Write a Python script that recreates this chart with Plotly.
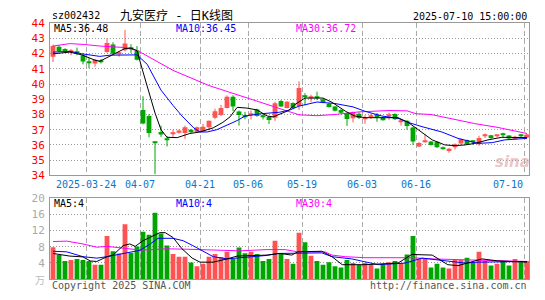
import plotly.graph_objects as go

# ---------------- data ----------------
dates = ["03-14","03-17","03-18","03-19","03-20","03-21","03-24","03-25","03-26","03-27",
         "03-28","03-31","04-01","04-02","04-03","04-07","04-08","04-09","04-10","04-11",
         "04-14","04-15","04-16","04-17","04-18","04-21","04-22","04-23","04-24","04-25",
         "04-28","04-29","04-30","05-06","05-07","05-08","05-09","05-12","05-13","05-14",
         "05-15","05-16","05-19","05-20","05-21","05-22","05-23","05-26","05-27","05-28",
         "05-29","05-30","06-03","06-04","06-05","06-06","06-09","06-10","06-11","06-12",
         "06-13","06-16","06-17","06-18","06-19","06-20","06-23","06-24","06-25","06-26",
         "06-27","06-30","07-01","07-02","07-03","07-04","07-07","07-08","07-09","07-10"]

opens = [41.80, 42.45, 42.30, 42.10, 42.16, 41.90, 41.46, 41.36, 41.50, 42.10,
         42.60, 41.98, 42.22, 42.40, 42.20, 38.30, 37.90, 36.20, 36.85, 36.40,
         36.75, 36.80, 36.78, 37.00, 36.85, 36.90, 37.16, 37.79, 37.96, 38.42,
         39.16, 38.20, 37.96, 38.00, 38.32, 37.92, 37.84, 37.79, 38.88, 38.42,
         38.76, 38.55, 39.25, 39.08, 39.12, 39.00, 38.70, 38.53, 38.30, 38.10,
         37.75, 38.05, 37.73, 37.87, 38.00, 37.79, 37.90, 38.04, 37.53, 37.58,
         37.15, 35.90, 36.20, 36.22, 36.20, 35.82, 35.60, 35.85, 36.10, 36.33,
         36.24, 36.05, 36.58, 36.64, 36.60, 36.70, 36.62, 36.42, 36.62, 36.48]
highs = [42.60, 42.55, 42.35, 42.30, 42.40, 42.00, 41.72, 41.65, 41.65, 43.00,
         42.75, 42.15, 43.56, 42.62, 42.50, 39.20, 38.03, 36.25, 37.27, 36.58,
         37.00, 37.00, 37.27, 37.05, 37.20, 37.38, 37.60, 38.38, 38.63, 39.26,
         39.26, 38.26, 38.17, 38.26, 38.38, 38.02, 37.90, 38.84, 38.95, 38.88,
         38.80, 40.18, 39.40, 39.30, 39.50, 39.05, 38.75, 38.55, 38.35, 38.12,
         38.20, 38.15, 37.97, 38.05, 38.10, 37.85, 38.12, 38.08, 37.70, 37.62,
         37.20, 36.20, 36.70, 36.25, 36.22, 35.90, 35.80, 36.10, 36.42, 36.35,
         36.30, 36.60, 36.75, 36.66, 36.68, 36.80, 36.65, 36.60, 36.70, 36.72]
lows = [41.46, 42.10, 42.10, 41.90, 41.90, 41.30, 41.04, 41.15, 41.35, 42.05,
        41.95, 41.80, 42.15, 42.05, 41.55, 37.35, 36.50, 34.07, 36.53, 35.90,
        36.50, 36.75, 36.39, 36.80, 36.80, 36.85, 36.96, 37.69, 37.90, 38.40,
        38.23, 37.27, 37.69, 37.67, 37.85, 37.67, 37.38, 37.58, 38.50, 38.40,
        38.35, 38.30, 38.60, 38.80, 38.95, 38.74, 38.45, 38.20, 38.05, 37.25,
        37.48, 37.70, 37.38, 37.70, 37.52, 37.60, 37.65, 37.65, 37.27, 37.00,
        36.00, 35.85, 36.15, 35.95, 35.80, 35.70, 35.49, 35.70, 36.00, 36.00,
        36.00, 35.95, 36.45, 36.40, 36.50, 36.50, 36.35, 36.38, 36.50, 36.45]
closes = [42.50, 42.15, 42.18, 42.17, 42.03, 41.48, 41.42, 41.60, 41.46, 42.70,
          42.00, 42.05, 42.66, 42.30, 41.60, 37.40, 36.78, 36.12, 36.68, 36.37,
          36.80, 36.95, 37.16, 36.88, 37.16, 37.20, 37.58, 38.21, 38.42, 39.16,
          38.53, 37.97, 37.86, 38.08, 37.90, 37.88, 37.63, 38.74, 38.53, 38.84,
          38.43, 39.74, 39.20, 39.15, 39.08, 38.78, 38.50, 38.24, 38.12, 37.70,
          38.16, 37.77, 37.78, 37.92, 37.80, 37.66, 37.96, 37.69, 37.60, 37.25,
          36.22, 36.13, 36.25, 36.00, 35.85, 35.78, 35.75, 36.05, 36.38, 36.03,
          36.20, 36.45, 36.62, 36.45, 36.65, 36.66, 36.42, 36.54, 36.58, 36.68]
volumes = [7.9, 5.95, 4.5, 4.75, 5.0, 4.75, 4.5, 3.57, 3.57, 10.7,
           6.9, 6.35, 13.6, 6.5, 8.1, 11.7, 10.95, 16.4, 11.3, 8.3,
           6.2, 5.55, 5.55, 4.1, 3.17, 3.8, 5.55, 6.2, 5.5, 6.8,
           5.0, 7.8, 6.4, 6.8, 6.2, 4.5, 5.0, 9.5, 6.35, 5.0,
           3.8, 11.5, 9.1, 5.8, 4.5, 3.57, 4.2, 3.17, 2.9, 4.76,
           3.97, 3.57, 3.97, 3.57, 2.6, 3.57, 4.2, 4.5, 3.97, 6.1,
           10.7, 5.0, 5.0, 2.9, 3.8, 2.9, 2.6, 4.76, 4.76, 5.3,
           3.97, 6.75, 4.5, 3.4, 3.8, 4.5, 3.4, 5.0, 4.2, 4.5]

# moving-average lines at (candle index, value)
ma5_x = [0, 2.8, 4.8, 7, 7.8, 9.8, 12, 13, 14, 15, 16, 17, 18, 19, 20.7, 22.8, 24.5, 26.7, 28.3,
         29.5, 30.7, 32.3, 34, 35.7, 36.7, 37.8, 39.2, 40.5, 42, 45, 46.5, 48.8, 50.3, 52, 57.5,
         59.2, 61.5, 63.2, 65.3, 67, 68.7, 70.3, 72.5, 74.8, 79]
ma5_y = [41.99, 42.1, 41.92, 41.57, 41.5, 41.9, 42.34, 42.36, 42.2, 40.8, 39.5, 38.1, 37.0, 36.5,
         36.48, 36.75, 36.85, 37.12, 37.48, 37.84, 38.47, 38.42, 38.3, 37.9, 37.84, 38.0, 38.25,
         38.7, 39.08, 39.08, 38.8, 38.2, 37.9, 37.79, 37.79, 37.48, 36.85, 36.33, 36.0, 35.95,
         36.0, 36.1, 36.33, 36.5, 36.48]
ma10_x = [0, 2.8, 4.8, 7.8, 9.5, 11, 14, 15.7, 18, 20, 21.5, 23.5, 24.5, 25.7, 27.3, 29, 30.7, 32,
          34.7, 37.8, 39.5, 41, 44, 47, 50, 52, 54.8, 57.5, 59.2, 61.5, 64.8, 67.5, 70.8, 73.2,
          75.3, 79]
ma10_y = [42.1, 42.15, 41.99, 41.82, 41.9, 41.92, 41.92, 41.3, 39.6, 38.6, 37.9, 37.1, 36.85,
          36.85, 37.0, 37.3, 37.6, 37.9, 38.05, 38.15, 38.3, 38.55, 38.82, 38.72, 38.5, 38.21,
          37.9, 37.75, 37.48, 37.2, 36.85, 36.43, 36.1, 36.15, 36.33, 36.43]
ma30_x = [0, 2.8, 5.3, 7.8, 12, 14, 15, 20, 26, 34, 40, 41, 44, 47, 51, 56, 59, 60.5, 63, 66.5,
          70.3, 74, 79]
ma30_y = [42.5, 42.66, 42.6, 42.5, 42.4, 42.2, 42.0, 40.9, 39.9, 38.85, 38.1, 37.98, 37.92, 38.0,
          38.17, 38.26, 38.24, 38.05, 38.0, 37.69, 37.4, 37.16, 36.75]

vma5_x = [0, 2.8, 5, 6.2, 7.3, 9, 10, 11.7, 12.8, 13.7, 15, 16.7, 17.8, 18.7, 20, 21.5, 23.2,
          24.5, 26.7, 29, 30.7, 35.7, 37.8, 39.8, 40.8, 44.8, 46.5, 48.2, 52, 57.5, 59.8, 63.2,
          65.8, 67.5, 69.8, 71.5, 74.2, 79]
vma5_y = [6.35, 5.7, 5.5, 4.5, 4.37, 5.55, 5.95, 8.3, 8.7, 8.1, 9.5, 10.7, 11.5, 11.5, 10.3, 7.5,
          5.2, 4.2, 4.2, 5.0, 5.7, 5.95, 6.35, 5.95, 6.75, 6.9, 5.55, 3.57, 3.57, 3.97, 6.1, 5.95,
          3.57, 3.33, 4.37, 5.0, 4.5, 4.2]
vma10_x = [0, 2.3, 5, 7.3, 9, 11.7, 14.5, 16.2, 17.5, 20, 21.7, 23.3, 26.7, 29, 31.2, 35.5, 37.5,
           40.8, 44.8, 46.5, 49.8, 54.2, 58.7, 61.5, 64.2, 68.7, 70.8, 79]
vma10_y = [6.9, 6.75, 5.55, 5.2, 5.55, 6.35, 7.14, 8.7, 10.1, 10.1, 9.5, 8.3, 5.55, 5.0, 5.3,
           5.85, 6.35, 6.35, 6.5, 5.55, 5.0, 3.57, 3.97, 5.2, 4.76, 3.97, 4.2, 4.37]
vma30_x = [0, 2.3, 5, 7.3, 9, 11.2, 13.3, 14.5, 16.7, 19, 22.3, 26.7, 31.2, 35.5, 38.7, 40.8,
           45.3, 46.5, 48.7, 52, 59.8, 63.2, 68.7, 74.2, 79]
vma30_y = [9.3, 9.4, 8.7, 7.9, 8.1, 7.75, 7.5, 7.2, 7.3, 7.5, 7.4, 7.14, 7.0, 7.3, 7.3, 6.75,
           6.75, 5.95, 5.55, 5.3, 5.3, 5.0, 4.76, 4.5, 4.37]

label_idx = [6, 15, 25, 33, 42, 52, 61, 79]
label_txt = ["2025-03-24", "04-07", "04-21", "05-06", "05-19", "06-03", "06-16", "07-10"]

# ---------------- styling ----------------
RED = "#ff5252"
GREEN = "#00a600"
MONO = "DejaVu Sans Mono, Liberation Mono, monospace"
CJK = "DejaVu Sans Mono, Noto Sans CJK SC, sans-serif"
FS = 10

n = len(closes)
idx = list(range(n))
up = [c >= o for o, c in zip(opens, closes)]

fig = go.Figure()

# candle bodies and wicks
for flag, col in ((True, RED), (False, GREEN)):
    xs = [i for i in idx if up[i] == flag]
    base = [min(opens[i], closes[i]) for i in xs]
    hgt = [max(abs(closes[i] - opens[i]), 0.07) for i in xs]
    fig.add_trace(go.Bar(x=xs, y=hgt, base=base, width=0.8, marker=dict(color=col, line=dict(width=0)),
                         xaxis="x", yaxis="y", showlegend=False, hoverinfo="skip"))
    wx, wy = [], []
    for i in xs:
        wx += [i, i, None]
        wy += [lows[i], highs[i], None]
    fig.add_trace(go.Scatter(x=wx, y=wy, mode="lines", line=dict(color=col, width=1),
                             xaxis="x", yaxis="y", showlegend=False, hoverinfo="skip"))

for xs, ys, col in ((ma30_x, ma30_y, "#ff00ff"), (ma10_x, ma10_y, "#0000ff"), (ma5_x, ma5_y, "#000000")):
    fig.add_trace(go.Scatter(x=xs, y=ys, mode="lines", line=dict(color=col, width=1),
                             xaxis="x", yaxis="y", showlegend=False, hoverinfo="skip"))

# volume
fig.add_trace(go.Bar(x=idx, y=volumes, width=0.8,
                     marker=dict(color=[RED if u else GREEN for u in up], line=dict(width=0)),
                     xaxis="x2", yaxis="y2", showlegend=False, hoverinfo="skip"))
for xs, ys, col in ((vma30_x, vma30_y, "#ff00ff"), (vma10_x, vma10_y, "#0000ff"), (vma5_x, vma5_y, "#000000")):
    fig.add_trace(go.Scatter(x=xs, y=ys, mode="lines", line=dict(color=col, width=1),
                             xaxis="x2", yaxis="y2", showlegend=False, hoverinfo="skip"))

W, H = 545, 300
L, R = 50, 529
xr = [-0.5, -0.5 + (R - L) / 6.0]
grid_x = [i - 0.5 for i in label_idx]

common_x = dict(range=xr, showticklabels=False, ticks="", showgrid=True, gridcolor="#aaaaaa",
                griddash="5px,3px", gridwidth=1, tickvals=grid_x, zeroline=False,
                showline=True, linecolor="#999999", linewidth=1, mirror=True,
                domain=[L / W, R / W], fixedrange=True)

fig.update_layout(
    width=W, height=H, margin=dict(l=0, r=0, t=0, b=0),
    paper_bgcolor="white", plot_bgcolor="white", barmode="overlay",
    xaxis=dict(anchor="y", **common_x),
    xaxis2=dict(anchor="y2", **common_x),
    yaxis=dict(domain=[(H - 177) / H, (H - 18) / H], range=[34, 44], tickvals=list(range(34, 45)),
               tickfont=dict(family=MONO, size=FS + 1, color="#ff0000"), ticks="",
               showgrid=True, gridcolor="#999999", griddash="1px,2px", zeroline=False,
               showline=True, linecolor="#999999", mirror=True, anchor="x", ticklabelstandoff=2),
    yaxis2=dict(domain=[(H - 285.5) / H, (H - 201) / H], range=[0, 20], tickvals=[4, 8, 12, 16, 20],
                tickfont=dict(family=MONO, size=FS + 1, color="#aaaaaa"), ticks="",
                showgrid=True, gridcolor="#999999", griddash="1px,2px", zeroline=False,
                showline=True, linecolor="#999999", mirror=True, anchor="x2", ticklabelstandoff=2),
)

ann = []
def txt(x, y, s, color="#000000", size=FS, xanchor="left", family=MONO, xref="paper", **kw):
    ann.append(dict(x=x if xref != "paper" else x / W, y=1 - y / H, xref=xref, yref="paper", text=s,
                    showarrow=False, xanchor=xanchor, yanchor="middle",
                    font=dict(family=family, size=size, color=color), **kw))

txt(50, 10, "sz002432")
txt(176, 10, "九安医疗 - 日K线图", size=12, xanchor="center", family=CJK)
txt(529, 11, "2025-07-10 15:00:00", xanchor="right")
txt(52, 24, "MA5:36.48")
txt(174, 24, "MA10:36.45", color="#0000ff")
txt(294, 24, "MA30:36.72", color="#ff00ff")
txt(52, 206, "MA5:4")
txt(174, 206, "MA10:4", color="#0000ff")
txt(294, 206, "MA30:4", color="#ff00ff")
for i, s in zip(label_idx, label_txt):
    xpos = i - 0.5
    if s == "07-10":
        xpos -= 2.6
    txt(xpos, 187, s, color="#0a75c9", xanchor="center", xref="x")
txt(47, 287, "万", color="#bbbbbb", xanchor="right", family=CJK)
txt(50, 292, "Copyright 2025 SINA.COM", color="#555555")
txt(529, 292, "http://finance.sina.com.cn", color="#555555", xanchor="right")
ann.append(dict(x=512 / W, y=1 - 163 / H, xref="paper", yref="paper", text="<b><i>sina</i></b>",
                showarrow=False, xanchor="center", yanchor="middle",
                font=dict(family="DejaVu Sans", size=15, color="rgba(215,150,150,0.55)")))
fig.update_layout(annotations=ann)

fig.write_html("out.html", config=dict(displayModeBar=False))
